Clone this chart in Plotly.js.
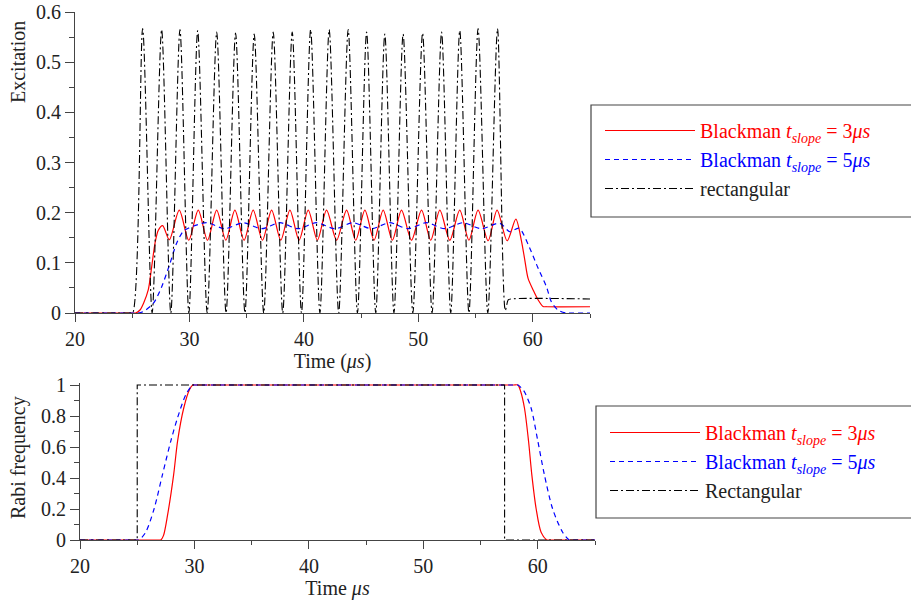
<!DOCTYPE html>
<html>
<head>
<meta charset="utf-8">
<script src="https://cdn.plot.ly/plotly-3.0.1.min.js"></script>
<style>html,body{margin:0;padding:0;background:#fff}#chart{width:911px;height:600px}</style>
</head>
<body>
<div id="chart"></div>
<script>
// ---------- Top panel: Excitation vs time ----------
const exRed3Time = [20, 25.0, 25.3, 25.68, 26.0, 26.4, 26.7, 26.99, 27.28, 27.66, 28.24,
  29.11, 29.94, 30.77, 31.58, 32.38, 33.18, 33.97, 34.77, 35.57, 36.38, 37.18, 37.98,
  38.78, 39.58, 40.38, 41.18, 41.98, 42.86, 43.73, 44.53, 45.33, 46.13, 46.93, 47.73,
  48.53, 49.4, 50.28, 51.08, 51.88, 52.75, 53.62, 54.42, 55.22, 56.1, 56.88, 57.76,
  58.52, 59.0, 59.3, 59.59, 60.03, 60.47, 60.9, 61.2, 65];
const exRed3 = [0, 0, 0, 0.006, 0.02, 0.046, 0.092, 0.139, 0.165, 0.174, 0.146,
  0.205, 0.145, 0.205, 0.145, 0.205, 0.145, 0.205, 0.145, 0.205, 0.145, 0.205, 0.145,
  0.205, 0.145, 0.205, 0.145, 0.205, 0.145, 0.205, 0.145, 0.205, 0.145, 0.205, 0.145,
  0.205, 0.145, 0.205, 0.145, 0.205, 0.145, 0.205, 0.145, 0.205, 0.144, 0.205, 0.144,
  0.187, 0.145, 0.106, 0.069, 0.046, 0.026, 0.013, 0.0125, 0.0125];

const exBlue5Time = [20, 25.2, 25.5, 25.97, 26.84, 27.57, 28.3, 28.88, 29.46, 29.9,
  31.5, 33.1, 34.7, 36.3, 37.9, 39.5, 41.1, 42.7, 44.3, 45.9, 47.5, 49.1, 50.7,
  52.3, 53.9, 55.5, 57.1, 58.0, 58.8, 59.74, 60.47, 61.2, 61.63, 62.2, 62.9, 63.3, 65];
const exBlue5 = [0, 0, 0, 0.003, 0.019, 0.052, 0.099, 0.139, 0.163, 0.169,
  0.18, 0.168, 0.18, 0.168, 0.18, 0.168, 0.18, 0.168, 0.18, 0.168, 0.18, 0.168, 0.18,
  0.168, 0.18, 0.168, 0.179, 0.162, 0.169, 0.129, 0.089, 0.052, 0.022, 0.006, 0, 0, 0];

const exRectTime = [20, 24.8, 25.04, 25.91, 26.74, 27.57, 28.37, 29.17, 29.95, 30.72, 31.55,
  32.38, 33.2, 34.03, 34.85, 35.66, 36.49, 37.32, 38.15, 38.98, 39.79, 40.59, 41.4,
  42.21, 43.04, 43.87, 44.68, 45.48, 46.28, 47.07, 47.87, 48.67, 49.52, 50.37, 51.2,
  52.03, 52.83, 53.62, 54.42, 55.22, 56.07, 56.92, 57.6, 57.85, 58.1, 65];
const exRect = [0, 0, 0, 0.567, 0, 0.565, 0, 0.565, 0, 0.563, 0,
  0.56, 0, 0.558, 0, 0.556, 0, 0.56, 0, 0.56, 0, 0.565, 0,
  0.565, 0, 0.565, 0, 0.56, 0, 0.556, 0, 0.556, 0, 0.558, 0,
  0.56, 0, 0.563, 0, 0.567, 0, 0.567, 0.005, 0.026, 0.028, 0.028];

// ---------- Bottom panel: Rabi frequency vs time ----------
const rabiRed3Time = [20, 26.8, 27.06, 27.3, 27.65, 28.18, 28.53, 29.06, 29.56, 29.85, 30.0, 30.5,
  57.8, 58.26, 58.5, 58.84, 59.19, 59.48, 59.86, 60.29, 60.81, 61.1, 65];
const rabiRed3 = [0, 0, 0, 0.03, 0.16, 0.42, 0.64, 0.85, 0.97, 1, 1, 1,
  1, 1, 0.96, 0.85, 0.64, 0.42, 0.2, 0.05, 0, 0, 0];

const rabiBlue5Time = [20, 25.0, 25.15, 25.74, 26.47, 27.2, 27.94, 28.53, 29.26, 29.85, 30, 30.5,
  57.8, 58.26, 58.8, 59.42, 60.0, 60.58, 61.3, 62.17, 62.75, 63.0, 65];
const rabiBlue5 = [0, 0, 0, 0.05, 0.2, 0.42, 0.64, 0.79, 0.94, 1, 1, 1,
  1, 1, 0.96, 0.85, 0.64, 0.42, 0.2, 0.05, 0, 0, 0];

const rabiRectTime = [20, 25, 25, 57.1, 57.1, 65];
const rabiRect = [0, 0, 1, 1, 0, 0];

const names = {
  red: '<span style="color:#ff0000">Blackman <i>t</i><sub><i>slope</i></sub> = 3<i>μs</i></span>',
  blue: '<span style="color:#0000ff">Blackman <i>t</i><sub><i>slope</i></sub> = 5<i>μs</i></span>'
};

const W = 911, H = 600;
const px = v => v / W, py = v => 1 - v / H;

const redLine = {color: '#ff0000', width: 1.2, shape: 'spline', smoothing: 0.8};
const blueLine = {color: '#0000ff', width: 1.2, dash: '5px,4px', shape: 'spline', smoothing: 0.8};
const blackLine = {color: '#000000', width: 1.1, dash: '8px,3px,2px,3px'};

const traces = [
  {x: exRed3Time, y: exRed3, mode: 'lines', line: redLine, name: names.red, xaxis: 'x', yaxis: 'y', legend: 'legend'},
  {x: exBlue5Time, y: exBlue5, mode: 'lines', line: blueLine, name: names.blue, xaxis: 'x', yaxis: 'y', legend: 'legend'},
  {x: exRectTime, y: exRect, mode: 'lines', line: Object.assign({}, blackLine, {shape: 'spline', smoothing: 0.8}), name: 'rectangular', xaxis: 'x', yaxis: 'y', legend: 'legend'},
  {x: rabiRed3Time, y: rabiRed3, mode: 'lines', line: redLine, name: names.red, xaxis: 'x2', yaxis: 'y2', legend: 'legend2'},
  {x: rabiBlue5Time, y: rabiBlue5, mode: 'lines', line: blueLine, name: names.blue, xaxis: 'x2', yaxis: 'y2', legend: 'legend2'},
  {x: rabiRectTime, y: rabiRect, mode: 'lines', line: blackLine, name: 'Rectangular', xaxis: 'x2', yaxis: 'y2', legend: 'legend2'}
];

const font = {family: '"Liberation Serif", "DejaVu Serif", serif', size: 20, color: '#222'};
const axisCommon = {
  showgrid: false, zeroline: false, showline: true, linecolor: '#444', linewidth: 1,
  ticks: 'outside', tickcolor: '#444', tickwidth: 1, tickfont: font, automargin: false
};

const layout = {
  width: W, height: H,
  margin: {l: 0, r: 0, t: 0, b: 0},
  paper_bgcolor: '#fff', plot_bgcolor: '#fff',
  font: font,
  xaxis: Object.assign({}, axisCommon, {
    domain: [px(75), px(590)], range: [20, 65], anchor: 'y',
    tick0: 20, dtick: 10, ticklen: 8,
    minor: {dtick: 5, ticklen: 4, tickcolor: '#444', ticks: 'outside'},
    title: {text: 'Time (<i>μs</i>)', font: font, standoff: 4}
  }),
  yaxis: Object.assign({}, axisCommon, {
    domain: [py(313), py(12)], range: [0, 0.6], anchor: 'x',
    dtick: 0.1, ticklen: 9,
    minor: {dtick: 0.05, ticklen: 5, tickcolor: '#444', ticks: 'outside'}
  }),
  xaxis2: Object.assign({}, axisCommon, {
    domain: [px(80), px(595)], range: [20, 65], anchor: 'y2',
    tick0: 20, dtick: 10, ticklen: 8,
    minor: {dtick: 5, ticklen: 4, tickcolor: '#444', ticks: 'outside'},
    title: {text: 'Time <i>μs</i>', font: font, standoff: 4}
  }),
  yaxis2: Object.assign({}, axisCommon, {
    domain: [py(540), py(383.45)], range: [0, 1.01], anchor: 'x2',
    tick0: 0, dtick: 0.2, ticklen: 9,
    minor: {tick0: 0, dtick: 0.1, ticklen: 5, tickcolor: '#444', ticks: 'outside'}
  }),
  annotations: [
    {text: 'Excitation', xref: 'paper', yref: 'paper', x: px(18), y: py(62), textangle: -90,
     showarrow: false, xanchor: 'center', yanchor: 'middle', font: font},
    {text: 'Rabi frequency', xref: 'paper', yref: 'paper', x: px(18), y: py(458), textangle: -90,
     showarrow: false, xanchor: 'center', yanchor: 'middle', font: font}
  ],
  legend: {
    x: px(600), y: py(111), xanchor: 'left', yanchor: 'top',
    bgcolor: 'rgba(0,0,0,0)', borderwidth: 0, font: font, itemwidth: 90,
    traceorder: 'normal'
  },
  legend2: {
    x: px(605), y: py(413), xanchor: 'left', yanchor: 'top',
    bgcolor: 'rgba(0,0,0,0)', borderwidth: 0, font: font, itemwidth: 90,
    traceorder: 'normal'
  },
  shapes: [
    {type: 'rect', xref: 'paper', yref: 'paper', x0: px(591), x1: px(918), y0: py(217), y1: py(105),
     line: {color: '#444', width: 1.2}, fillcolor: 'rgba(0,0,0,0)', layer: 'below'},
    {type: 'rect', xref: 'paper', yref: 'paper', x0: px(596), x1: px(918), y0: py(518), y1: py(406),
     line: {color: '#444', width: 1.2}, fillcolor: 'rgba(0,0,0,0)', layer: 'below'}
  ],
  showlegend: true
};

Plotly.newPlot('chart', traces, layout, {displayModeBar: false, staticPlot: true});
</script>
</body>
</html>
